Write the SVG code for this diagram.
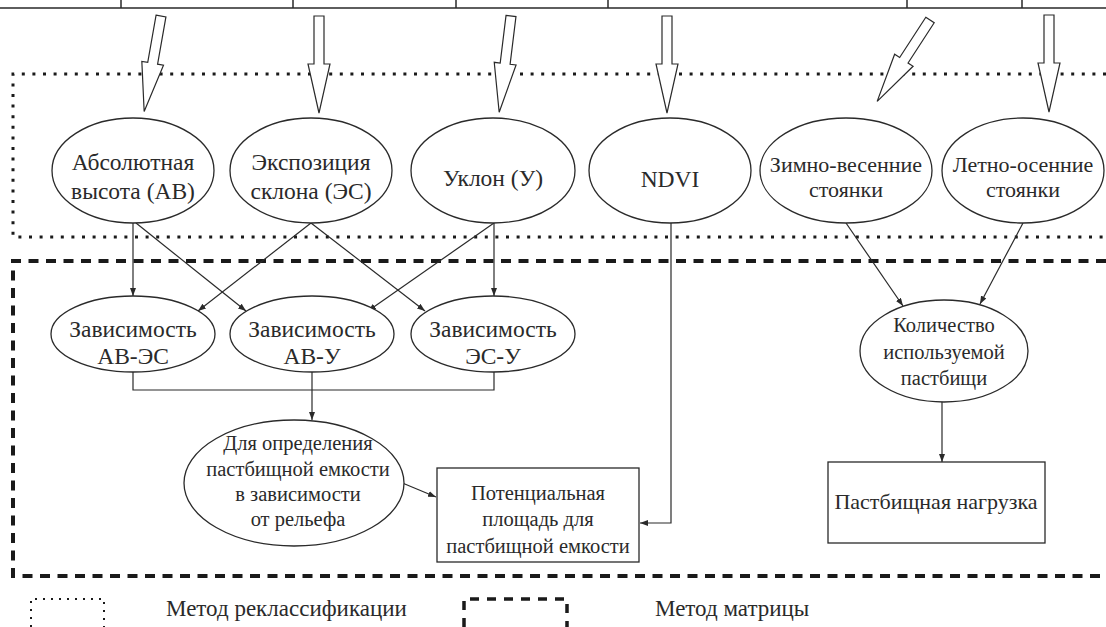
<svg xmlns="http://www.w3.org/2000/svg" xmlns:xlink="http://www.w3.org/1999/xlink" width="1106" height="627" viewBox="0 0 1106 627">
  <style>
    .node { fill: #ffffff; stroke: #2a2a2a; stroke-width: 1.3; }
    text { fill: #2a2a2a; }
    .txt { text-anchor: middle; }
    .big { font-size: 23.5px; }
    .mid { font-size: 22px; }
    .sm { font-size: 20.5px; }
    .leg { font-size: 23px; }
    .edge { fill: none; stroke: #2a2a2a; stroke-width: 1.2; }
    .dotted { fill: none; stroke: #1a1a1a; stroke-width: 3; stroke-dasharray: 3 7.6; }
    .dashed { fill: none; stroke: #1a1a1a; stroke-width: 4; stroke-dasharray: 10 7.5; }
    .block { fill: #ffffff; stroke: #2a2a2a; stroke-width: 1.2; stroke-linejoin: miter; }
    .rule { fill: none; stroke: #2a2a2a; stroke-width: 1.5; }
  </style>
  <defs>
    <marker id="arr" markerUnits="userSpaceOnUse" markerWidth="9" markerHeight="7" refX="8" refY="3" orient="auto">
      <path d="M0,0 L8,3 L0,6 Z" fill="#2a2a2a"/>
    </marker>
    <!-- hollow block arrow, tail at origin, tip 97px along +y -->
    <path id="blockArrow" class="block" d="M-5,0 H5 V48 H11 L0,97 L-11,48 H-5 Z"/>
  </defs>

  <rect width="1106" height="627" fill="#ffffff"/>

  <!-- header row edge with column ticks -->
  <g id="header">
    <path class="rule" d="M0,8 H1106 M121,0 V8 M293,0 V8 M456,0 V8 M608,0 V8 M907,0 V8 M1022,0 V8"/>
  </g>

  <!-- method zones -->
  <g id="zones">
    <path class="dotted" d="M1106,74 H13 V237 H1106"/>
    <path class="dashed" d="M1106,261 H13 V576 H1106"/>
  </g>

  <!-- input block arrows -->
  <g id="inputs">
    <use xlink:href="#blockArrow" transform="translate(161,16) rotate(10)"/>
    <use xlink:href="#blockArrow" transform="translate(319,16)"/>
    <use xlink:href="#blockArrow" transform="translate(511,16) rotate(7)"/>
    <use xlink:href="#blockArrow" transform="translate(667,16)"/>
    <use xlink:href="#blockArrow" transform="translate(930,20) rotate(33)"/>
    <use xlink:href="#blockArrow" transform="translate(1049,15)"/>
  </g>

  <!-- connectors -->
  <g id="connectors">
    <path class="edge" d="M133,223 V296" marker-end="url(#arr)"/>
    <path class="edge" d="M136,223 L246,311" marker-end="url(#arr)"/>
    <path class="edge" d="M311,223 L198,311" marker-end="url(#arr)"/>
    <path class="edge" d="M311,223 L425,311" marker-end="url(#arr)"/>
    <path class="edge" d="M494,223 L368,311" marker-end="url(#arr)"/>
    <path class="edge" d="M494,223 V296" marker-end="url(#arr)"/>
    <path class="edge" d="M133,372 V390 H494 V372"/>
    <path class="edge" d="M312,372 V420" marker-end="url(#arr)"/>
    <path class="edge" d="M400,482 L436,497" marker-end="url(#arr)"/>
    <path class="edge" d="M671,223 V523 H640" marker-end="url(#arr)"/>
    <path class="edge" d="M846,223 L903,306" marker-end="url(#arr)"/>
    <path class="edge" d="M1023,223 L980,304" marker-end="url(#arr)"/>
    <path class="edge" d="M942,402 V462" marker-end="url(#arr)"/>
  </g>

  <g id="nodes" font-family="Liberation Serif, Times New Roman, Times, DejaVu Serif, FreeSerif, serif">
    <!-- raster inputs -->
    <g id="n-altitude">
      <ellipse class="node" cx="133" cy="170.5" rx="81" ry="52.5"/>
      <text class="txt big" x="133" y="170">Абсолютная</text>
      <text class="txt big" x="133" y="199">высота (АВ)</text>
    </g>
    <g id="n-aspect">
      <ellipse class="node" cx="311" cy="170.5" rx="81" ry="52.5"/>
      <text class="txt big" x="311" y="170">Экспозиция</text>
      <text class="txt big" x="311" y="199">склона (ЭС)</text>
    </g>
    <g id="n-slope">
      <ellipse class="node" cx="493" cy="170.5" rx="82" ry="52.5"/>
      <text class="txt big" x="493" y="186">Уклон (У)</text>
    </g>
    <g id="n-ndvi">
      <ellipse class="node" cx="670" cy="170.5" rx="81" ry="52.5"/>
      <text class="txt big" x="670" y="187">NDVI</text>
    </g>
    <g id="n-winter">
      <ellipse class="node" cx="846" cy="170.5" rx="86" ry="52.5"/>
      <text class="txt mid" x="846" y="172">Зимно-весенние</text>
      <text class="txt mid" x="846" y="197">стоянки</text>
    </g>
    <g id="n-summer">
      <ellipse class="node" cx="1023" cy="170.5" rx="81" ry="52.5"/>
      <text class="txt mid" x="1023" y="172">Летно-осенние</text>
      <text class="txt mid" x="1023" y="197">стоянки</text>
    </g>

    <!-- pairwise dependencies -->
    <g id="n-av-es">
      <ellipse class="node" cx="133" cy="334" rx="82" ry="38"/>
      <text class="txt big" x="133" y="337">Зависимость</text>
      <text class="txt big" x="133" y="364">АВ-ЭС</text>
    </g>
    <g id="n-av-u">
      <ellipse class="node" cx="312" cy="334" rx="82" ry="38"/>
      <text class="txt big" x="312" y="337">Зависимость</text>
      <text class="txt big" x="312" y="364">АВ-У</text>
    </g>
    <g id="n-es-u">
      <ellipse class="node" cx="493" cy="334" rx="82" ry="38"/>
      <text class="txt big" x="493" y="337">Зависимость</text>
      <text class="txt big" x="493" y="364">ЭС-У</text>
    </g>

    <g id="n-relief">
      <ellipse class="node" cx="294" cy="483" rx="110" ry="63"/>
      <text class="txt sm" x="298" y="450">Для определения</text>
      <text class="txt sm" x="298" y="476">пастбищной емкости</text>
      <text class="txt sm" x="298" y="501">в зависимости</text>
      <text class="txt sm" x="298" y="526">от рельефа</text>
    </g>

    <g id="n-potential">
      <rect class="node" x="437" y="468" width="202" height="94"/>
      <text class="txt sm" x="538" y="500">Потенциальная</text>
      <text class="txt sm" x="538" y="526">площадь для</text>
      <text class="txt sm" x="538" y="553">пастбищной емкости</text>
    </g>

    <g id="n-count">
      <ellipse class="node" cx="944" cy="351" rx="84" ry="51"/>
      <text class="txt sm" x="944" y="332">Количество</text>
      <text class="txt sm" x="944" y="359">используемой</text>
      <text class="txt sm" x="944" y="385">пастбищи</text>
    </g>

    <g id="n-load">
      <rect class="node" x="828" y="462" width="217" height="81"/>
      <text class="txt mid" x="936" y="509">Пастбищная нагрузка</text>
    </g>
  </g>

  <!-- legend -->
  <g id="legend" font-family="Liberation Serif, Times New Roman, Times, DejaVu Serif, FreeSerif, serif">
    <path fill="none" stroke="#1a1a1a" stroke-width="2" stroke-dasharray="2 6" d="M31,627 V599 H104 V627"/>
    <text class="leg" x="166" y="616">Метод реклассификации</text>
    <path fill="none" stroke="#1a1a1a" stroke-width="3.5" stroke-dasharray="9 8" d="M464,627 V599 H567 V627"/>
    <text class="leg" x="655" y="616">Метод матрицы</text>
  </g>
</svg>
